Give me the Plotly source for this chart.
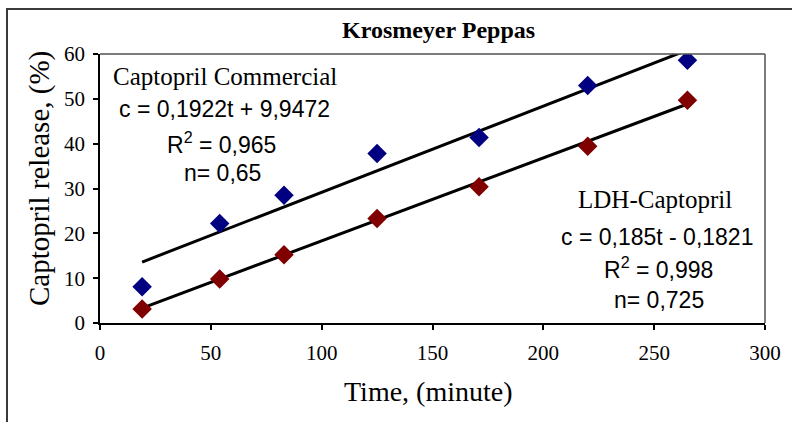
import numpy as np
import plotly.graph_objects as go

# Release data (time in minutes, cumulative release in %)
time_min = [19, 54, 83, 125, 171, 220, 265]
commercial = [8.1, 22.2, 28.5, 37.8, 41.4, 53.0, 58.6]
ldh = [3.1, 9.8, 15.2, 23.3, 30.4, 39.4, 49.7]

# Linear fits reported for each formulation
fit_commercial = (0.1922, 9.9472)
fit_ldh = (0.185, -0.1821)

x_ticks = [0, 50, 100, 150, 200, 250, 300]
y_ticks = [0, 10, 20, 30, 40, 50, 60]

W, H = 792, 422
L, R, T, B = 100, 27, 54, 99
pw, ph = W - L - R, H - T - B


def px(x):
    return (x - L) / pw


def py(y):
    return (H - B - y) / ph


serif = "Liberation Serif, Times New Roman, serif"
sans = "Liberation Sans, Arial, sans-serif"

fig = go.Figure()

t_line = np.array([min(time_min), max(time_min)], dtype=float)
for slope, icpt in (fit_commercial, fit_ldh):
    fig.add_trace(go.Scatter(x=t_line, y=slope * t_line + icpt, mode="lines",
                             line=dict(color="black", width=3),
                             showlegend=False, hoverinfo="skip"))

fig.add_trace(go.Scatter(x=time_min, y=commercial, mode="markers",
                         marker=dict(symbol="diamond", size=15, color="#000080"),
                         name="Captopril Commercial", showlegend=False))
fig.add_trace(go.Scatter(x=time_min, y=ldh, mode="markers",
                         marker=dict(symbol="diamond", size=15, color="#800000"),
                         name="LDH-Captopril", showlegend=False))

axis_common = dict(showgrid=False, zeroline=False, showline=True,
                   linecolor="black", linewidth=1.5, ticks="outside",
                   ticklen=5, tickwidth=1.5, tickcolor="black",
                   tickfont=dict(family=serif, size=21, color="black"),
                   mirror=False)
fig.update_xaxes(range=[0, 300], tickvals=x_ticks, ticklabelstandoff=5,
                 **axis_common)
fig.update_yaxes(range=[0, 60], tickvals=y_ticks, ticklabelstandoff=4,
                 **axis_common)

shapes = [
    # outer chart frame
    dict(type="rect", xref="paper", yref="paper",
         x0=px(7), x1=px(800), y0=py(430), y1=py(9),
         line=dict(color="#3a3a3a", width=2)),
    # top and right edges of the plot area
    dict(type="line", xref="paper", yref="paper", x0=0, x1=1, y0=1, y1=1,
         line=dict(color="#505050", width=1.5)),
    dict(type="line", xref="paper", yref="paper", x0=1, x1=1, y0=0, y1=1,
         line=dict(color="#505050", width=1.5)),
]


def note(text, x, y, family, size, bold=False):
    return dict(text=f"<b>{text}</b>" if bold else text,
                xref="paper", yref="paper", x=px(x), y=py(y),
                xanchor="center", yanchor="middle", showarrow=False,
                font=dict(family=family, size=size, color="black"))


annotations = [
    note("Krosmeyer Peppas", 438, 30, serif, 24, bold=True),
    note("Time, (minute)", 428, 391, serif, 28),
    dict(text="Captopril release, (%)", xref="paper", yref="paper",
         x=px(39), y=py(179), xanchor="center", yanchor="middle",
         textangle=-90, showarrow=False,
         font=dict(family=serif, size=29, color="black")),
    note("Captopril Commercial", 225, 76, serif, 25),
    note("c = 0,1922t + 9,9472", 224, 109, sans, 23),
    note("R<sup>2</sup> = 0,965", 221, 143, sans, 23),
    note("n= 0,65", 222, 173, sans, 23),
    note("LDH-Captopril", 655, 199, serif, 25),
    note("c = 0,185t - 0,1821", 657, 237, sans, 23),
    note("R<sup>2</sup> = 0,998", 658, 268, sans, 23),
    note("n= 0,725", 659, 300, sans, 23),
]

fig.update_layout(width=W, height=H,
                  margin=dict(l=L, r=R, t=T, b=B),
                  paper_bgcolor="white", plot_bgcolor="white",
                  shapes=shapes, annotations=annotations,
                  showlegend=False)

fig.write_html("out.html")
